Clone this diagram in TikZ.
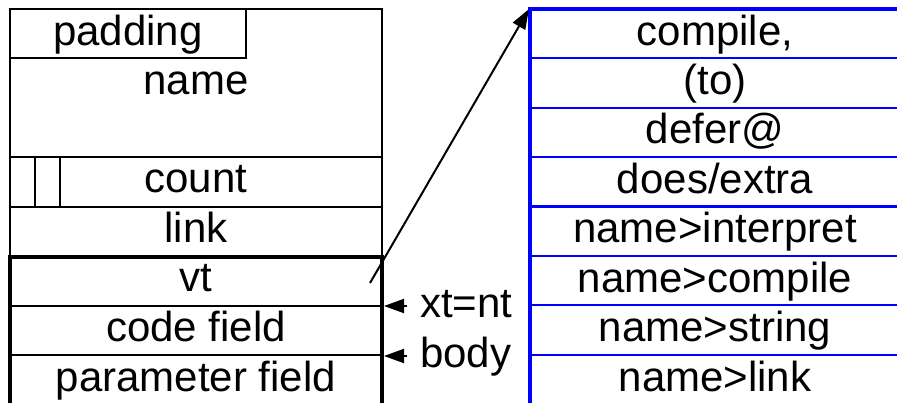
\documentclass[tikz,border=0pt]{standalone}
\usepackage{fontspec}
\setmainfont{Liberation Sans}
\usetikzlibrary{arrows.meta}

\begin{document}
\begin{tikzpicture}[x=1pt,y=-1pt,
    every node/.style={font=\fontsize{42}{50}\selectfont,inner sep=0pt,text height=23pt,text depth=0pt},
    cellline/.style={line width=2pt},
    boxline/.style={line width=4pt},
    bluerule/.style={blue,line width=2.2pt},
    ptr/.style={line width=2pt,-{Triangle[length=20pt,width=14pt]}},
    lbl/.style={anchor=west,inner xsep=13pt}]
    \useasboundingbox (0,0) rectangle (897,403);
    \clip (0,0) rectangle (897,403);
    \begin{scope}
      % header of the word
      \coordinate (A) at (10,9);
      \coordinate (B) at (382,9);
      \draw[cellline] (10,257)--(A)--(B)--(382,257);
      \draw[cellline] (A) rectangle (246,58);
      \draw[cellline] (10,157)--(382,157) (10,207)--(382,207);
      \draw[cellline] (35,157)--(35,207) (60,157)--(60,207);
      % body, open at the bottom
      \draw[boxline] (10,420)--(10,257)--(382,257)--(382,420);
      \draw[cellline] (10,306)--(382,306) (10,355)--(382,355);
      \node (pad) at (128,33.7) {padding};
      \node (nm)  at (196,83.5) {name};
      \node (cnt) at (196,181.5) {count};
      \node (lnk) at (196,231)  {link};
      \node (vt)  at (196,280.5) {vt};
      \node (cf)  at (196,330)  {code field};
      \node (pf)  at (196,379.5) {parameter field};
    \end{scope}
    \begin{scope}
      % the vtable
      \foreach \i in {1,...,8}
        \draw[bluerule] (530,{9+\i*49.4})--(900,{9+\i*49.4});
      \draw[bluerule,line width=4.5pt] (530,420)--(530,9)--(900,9);
      \foreach \t [count=\i] in {{compile,},(to),defer@,does/extra,name>interpret,name>compile,name>string,name>link}
        \node (m\i) at (715,{9+(\i-0.5)*49.4}) {\t};
    \end{scope}
    % pointers
    \coordinate (vtp) at (370,283);
    \coordinate (tbl) at (529,9);
    \draw[ptr] (vtp)--(tbl);
    \node[lbl] (xt) at (407,306) {xt=nt};
    \node[lbl] (bd) at (407,356) {body};
    \coordinate (xtp) at (384,306);
    \coordinate (bdp) at (384,356);
    \draw[ptr] (xt.west)--(xtp);
    \draw[ptr] (bd.west)--(bdp);
\end{tikzpicture}
\end{document}
